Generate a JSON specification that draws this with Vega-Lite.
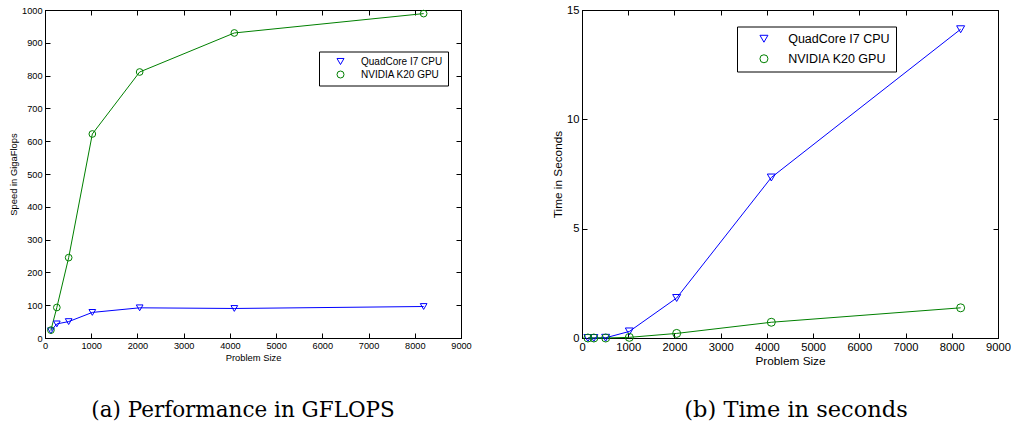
{
  "$schema": "https://vega.github.io/schema/vega-lite/v6.json",
  "background": "white",
  "padding": {"left": 8, "top": 3, "right": 0, "bottom": 0},
  "spacing": 80,
  "resolve": {"scale": {"color": "independent", "shape": "independent"}, "legend": {"color": "independent", "shape": "independent"}},
  "datasets": {
    "gflops": [
      {"size": 128, "device": "QuadCore I7 CPU", "value": 22},
      {"size": 256, "device": "QuadCore I7 CPU", "value": 43},
      {"size": 512, "device": "QuadCore I7 CPU", "value": 50},
      {"size": 1024, "device": "QuadCore I7 CPU", "value": 78},
      {"size": 2048, "device": "QuadCore I7 CPU", "value": 92},
      {"size": 4096, "device": "QuadCore I7 CPU", "value": 90},
      {"size": 8192, "device": "QuadCore I7 CPU", "value": 96},
      {"size": 128, "device": "NVIDIA K20 GPU", "value": 24},
      {"size": 256, "device": "NVIDIA K20 GPU", "value": 93},
      {"size": 512, "device": "NVIDIA K20 GPU", "value": 245},
      {"size": 1024, "device": "NVIDIA K20 GPU", "value": 622},
      {"size": 2048, "device": "NVIDIA K20 GPU", "value": 811},
      {"size": 4096, "device": "NVIDIA K20 GPU", "value": 930},
      {"size": 8192, "device": "NVIDIA K20 GPU", "value": 989}
    ],
    "seconds": [
      {"size": 128, "device": "QuadCore I7 CPU", "value": 0.0},
      {"size": 256, "device": "QuadCore I7 CPU", "value": 0.0},
      {"size": 512, "device": "QuadCore I7 CPU", "value": 0.01},
      {"size": 1024, "device": "QuadCore I7 CPU", "value": 0.3},
      {"size": 2048, "device": "QuadCore I7 CPU", "value": 1.83},
      {"size": 4096, "device": "QuadCore I7 CPU", "value": 7.34},
      {"size": 8192, "device": "QuadCore I7 CPU", "value": 14.12},
      {"size": 128, "device": "NVIDIA K20 GPU", "value": 0.0},
      {"size": 256, "device": "NVIDIA K20 GPU", "value": 0.0},
      {"size": 512, "device": "NVIDIA K20 GPU", "value": 0.0},
      {"size": 1024, "device": "NVIDIA K20 GPU", "value": 0.03},
      {"size": 2048, "device": "NVIDIA K20 GPU", "value": 0.21},
      {"size": 4096, "device": "NVIDIA K20 GPU", "value": 0.72},
      {"size": 8192, "device": "NVIDIA K20 GPU", "value": 1.38}
    ]
  },
  "hconcat": [
    {
      "width": 416,
      "height": 328,
      "data": {"name": "gflops"},
      "title": {"text": "(a) Performance in GFLOPS", "orient": "bottom", "frame": "group", "dx": -10, "offset": 38},
      "encoding": {
        "color": {"field": "device", "type": "nominal", "scale": {"domain": ["QuadCore I7 CPU", "NVIDIA K20 GPU"], "range": ["#0000ff", "#008000"]},
          "legend": {
            "title": null, "orient": "none", "legendX": 274, "legendY": 41.5,
            "padding": 5, "strokeColor": "black", "fillColor": "white",
            "symbolSize": 49, "symbolOffset": 11.5, "labelOffset": 15.5, "symbolStrokeWidth": 1,
            "labelFontSize": 10, "labelFont": "Liberation Sans", "labelColor": "black", "rowPadding": 1
          }}
      },
      "layer": [
        {
          "mark": {"type": "line", "strokeWidth": 1},
          "encoding": {
            "x": {"field": "size", "type": "quantitative", "scale": {"domain": [0, 9000], "nice": false},
                  "axis": {"orient": "top", "labels": false, "title": null, "values": [0,1000,2000,3000,4000,5000,6000,7000,8000,9000]}},
            "y": {"field": "value", "type": "quantitative", "scale": {"domain": [0, 1000], "nice": false},
                  "axis": {"orient": "right", "labels": false, "title": null, "values": [0,100,200,300,400,500,600,700,800,900,1000]}},
            "detail": {"field": "device"}
          }
        },
        {
          "mark": {"type": "point", "filled": false, "size": 45, "strokeWidth": 1, "opacity": 1},
          "encoding": {
            "x": {"field": "size", "type": "quantitative", "scale": {"domain": [0, 9000], "nice": false},
                  "axis": {"orient": "bottom", "title": "Problem Size", "format": "d", "values": [0,1000,2000,3000,4000,5000,6000,7000,8000,9000]}},
            "y": {"field": "value", "type": "quantitative", "scale": {"domain": [0, 1000], "nice": false},
                  "axis": {"orient": "left", "title": "Speed in GigaFlops", "format": "d", "values": [0,100,200,300,400,500,600,700,800,900,1000]}},
            "shape": {"field": "device", "type": "nominal", "scale": {"domain": ["QuadCore I7 CPU", "NVIDIA K20 GPU"], "range": ["triangle-down", "circle"]}, "legend": null}
          }
        }
      ]
    },
    {
      "width": 416,
      "height": 328,
      "data": {"name": "seconds"},
      "title": {"text": "(b) Time in seconds", "orient": "bottom", "frame": "group", "dx": 6, "offset": 32, "fontSize": 22.5},
      "encoding": {
        "color": {"field": "device", "type": "nominal", "scale": {"domain": ["QuadCore I7 CPU", "NVIDIA K20 GPU"], "range": ["#0000ff", "#008000"]},
          "legend": {
            "title": null, "orient": "none", "legendX": 155, "legendY": 16.5,
            "padding": 6, "strokeColor": "black", "fillColor": "white",
            "symbolSize": 64, "symbolOffset": 14.7, "labelOffset": 18, "symbolStrokeWidth": 1,
            "labelFontSize": 12.5, "labelFont": "Liberation Sans", "labelColor": "black", "rowPadding": 7
          }}
      },
      "layer": [
        {
          "mark": {"type": "line", "strokeWidth": 1},
          "encoding": {
            "x": {"field": "size", "type": "quantitative", "scale": {"domain": [0, 9000], "nice": false},
                  "axis": {"orient": "top", "labels": false, "title": null, "values": [0,1000,2000,3000,4000,5000,6000,7000,8000,9000]}},
            "y": {"field": "value", "type": "quantitative", "scale": {"domain": [0, 15], "nice": false},
                  "axis": {"orient": "right", "labels": false, "title": null, "values": [0,5,10,15]}},
            "detail": {"field": "device"}
          }
        },
        {
          "mark": {"type": "point", "filled": false, "size": 64, "strokeWidth": 1, "opacity": 1},
          "encoding": {
            "x": {"field": "size", "type": "quantitative", "scale": {"domain": [0, 9000], "nice": false},
                  "axis": {"orient": "bottom", "title": "Problem Size", "format": "d", "values": [0,1000,2000,3000,4000,5000,6000,7000,8000,9000], "labelFontSize": 11.2, "titleFontSize": 11.8}},
            "y": {"field": "value", "type": "quantitative", "scale": {"domain": [0, 15], "nice": false},
                  "axis": {"orient": "left", "title": "Time in Seconds", "format": "d", "values": [0,5,10,15], "labelFontSize": 11.2, "titleFontSize": 11.8}},
            "shape": {"field": "device", "type": "nominal", "scale": {"domain": ["QuadCore I7 CPU", "NVIDIA K20 GPU"], "range": ["triangle-down", "circle"]}, "legend": null}
          }
        }
      ]
    }
  ],
  "config": {
    "font": "Liberation Sans",
    "view": {"stroke": "black", "strokeWidth": 1},
    "axis": {
      "grid": false, "domain": true, "domainColor": "black", "domainWidth": 1,
      "ticks": true, "tickColor": "black", "tickSize": -5, "tickWidth": 1,
      "labelFont": "Liberation Sans", "labelFontSize": 9.2, "labelColor": "black", "labelPadding": 8,
      "titleFont": "Liberation Sans", "titleFontSize": 9.4, "titleFontWeight": "normal", "titleColor": "black", "titlePadding": 3,
      "labelFlush": false, "labelOverlap": false
    },
    "title": {"font": "DejaVu Serif", "fontSize": 21.5, "fontWeight": "normal", "color": "black", "anchor": "middle"}
  }
}
